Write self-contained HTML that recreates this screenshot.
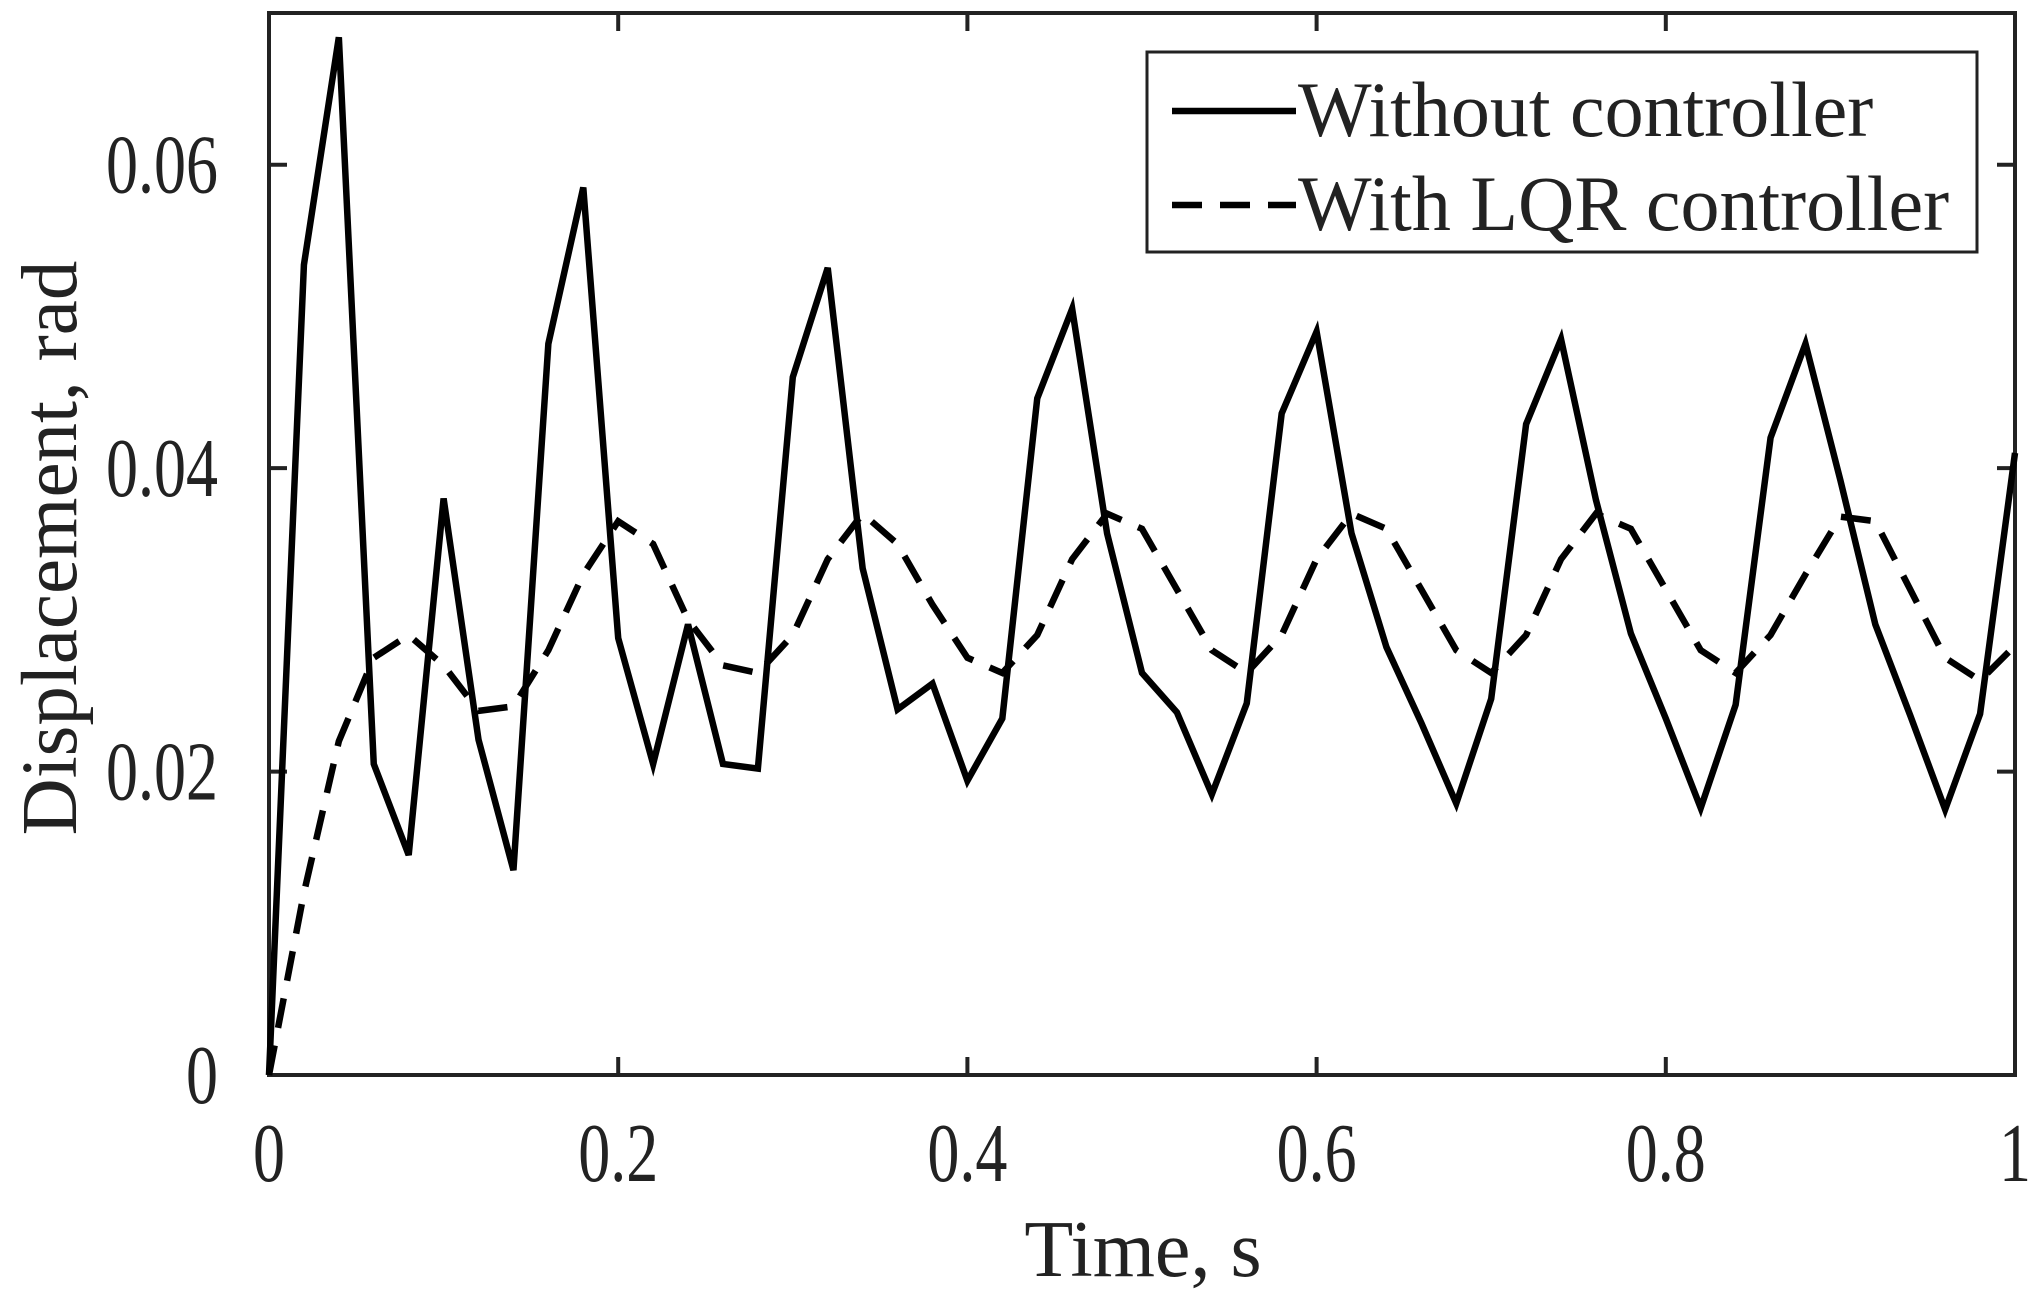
<!DOCTYPE html>
<html><head><meta charset="utf-8"><style>
body{margin:0;background:#fff}
svg{display:block;font-family:"Liberation Serif",serif}
</style></head><body>
<svg id="chart" width="2042" height="1299" viewBox="0 0 2042 1299"></svg>
<script>
const timeValues=[0,0.02,0.04,0.06,0.08,0.10,0.12,0.14,0.16,0.18,0.20,0.22,0.24,0.26,0.28,0.30,0.32,0.34,0.36,0.38,0.40,0.42,0.44,0.46,0.48,0.50,0.52,0.54,0.56,0.58,0.60,0.62,0.64,0.66,0.68,0.70,0.72,0.74,0.76,0.78,0.80,0.82,0.84,0.86,0.88,0.90,0.92,0.94,0.96,0.98,1.00];
const withoutController=[0,0.0534,0.0684,0.0205,0.0145,0.038,0.0221,0.0135,0.0482,0.0585,0.0288,0.0205,0.0297,0.0205,0.0202,0.046,0.0532,0.0334,0.0241,0.0258,0.0194,0.0235,0.0446,0.0505,0.0357,0.0265,0.0239,0.0185,0.0245,0.0436,0.049,0.0357,0.0282,0.0232,0.0179,0.0248,0.0429,0.0485,0.0379,0.0291,0.0235,0.0176,0.0244,0.042,0.0482,0.0392,0.0297,0.0237,0.0175,0.0238,0.041];
const withLQR=[0,0.012,0.022,0.0275,0.029,0.027,0.024,0.0243,0.028,0.033,0.0365,0.035,0.030,0.027,0.0265,0.029,0.034,0.037,0.035,0.031,0.0275,0.0265,0.029,0.034,0.037,0.036,0.032,0.028,0.0265,0.029,0.034,0.037,0.036,0.032,0.028,0.0265,0.029,0.034,0.037,0.036,0.032,0.028,0.0265,0.029,0.033,0.0368,0.0365,0.032,0.0275,0.026,0.0283];
const xTicks=[0,0.2,0.4,0.6,0.8,1];
const xTickLabels=["0","0.2","0.4","0.6","0.8","1"];
const yTicks=[0,0.02,0.04,0.06];
const yTickLabels=["0","0.02","0.04","0.06"];

const L=269,R=2015,T=13,B=1075,XMAX=1,YMAX=0.07;
const sx=v=>L+(R-L)*v/XMAX, sy=v=>B-(B-T)*v/YMAX;
const svg=document.getElementById('chart');
const NS='http://www.w3.org/2000/svg';
function mk(tag,attrs,parent){const e=document.createElementNS(NS,tag);for(const k in attrs)e.setAttribute(k,attrs[k]);(parent||svg).appendChild(e);return e;}

const frame=mk('rect',{x:L,y:T,width:R-L,height:B-T,fill:'none',stroke:'#222','stroke-width':4});



xTicks.forEach((v,i)=>{
  const x=sx(v);
  const t1=mk('line',{x1:x,x2:x,y1:B,y2:B-18,stroke:'#222','stroke-width':4});
  
  
  const t2=mk('line',{x1:x,x2:x,y1:T,y2:T+18,stroke:'#222','stroke-width':4});
  
  
  const tx=mk('text',{x:0,y:0,'font-size':64,'text-anchor':'middle',fill:'#222',transform:'translate('+x+',1181) scale(1,1.3)'});
  tx.textContent=xTickLabels[i];
  
  
});
yTicks.forEach((v,i)=>{
  const y=sy(v);
  const t1=mk('line',{x1:L,x2:L+18,y1:y,y2:y,stroke:'#222','stroke-width':4});
  
  
  const t2=mk('line',{x1:R,x2:R-18,y1:y,y2:y,stroke:'#222','stroke-width':4});
  
  
  const tx=mk('text',{x:0,y:0,'font-size':64,'text-anchor':'end',fill:'#222',transform:'translate(218,'+(y+28)+') scale(1,1.3)'});
  tx.textContent=yTickLabels[i];
  
  
});

function pts(arr){return arr.map((v,i)=>sx(timeValues[i])+','+sy(v)).join(' ');}
const s1=mk('polyline',{points:pts(withoutController),fill:'none',stroke:'#000','stroke-width':6.5,'stroke-linejoin':'miter'});


const s2=mk('polyline',{points:pts(withLQR),fill:'none',stroke:'#000','stroke-width':6.5,'stroke-dasharray':'30 18'});



const xt=mk('text',{x:1143,y:1276,'font-size':80,'text-anchor':'middle',fill:'#222'});
xt.textContent='Time, s';


const yt=mk('text',{x:0,y:0,'font-size':79,'text-anchor':'middle',fill:'#222',transform:'translate(76,548) rotate(-90)'});
yt.textContent='Displacement, rad';



const lg=mk('g',{});


mk('rect',{x:1147,y:52,width:830,height:200,fill:'#fff',stroke:'#222','stroke-width':3},lg);
const l1=mk('line',{x1:1172,x2:1296,y1:111,y2:111,stroke:'#000','stroke-width':6.5},lg);


const lt1=mk('text',{x:1298,y:136,'font-size':78,fill:'#222'},lg);
lt1.textContent='Without controller';


const l2=mk('line',{x1:1172,x2:1296,y1:205,y2:205,stroke:'#000','stroke-width':6.5,'stroke-dasharray':'30 18'},lg);


const lt2=mk('text',{x:1298,y:230,'font-size':78,fill:'#222'},lg);
lt2.textContent='With LQR controller';


</script>
</body></html>
